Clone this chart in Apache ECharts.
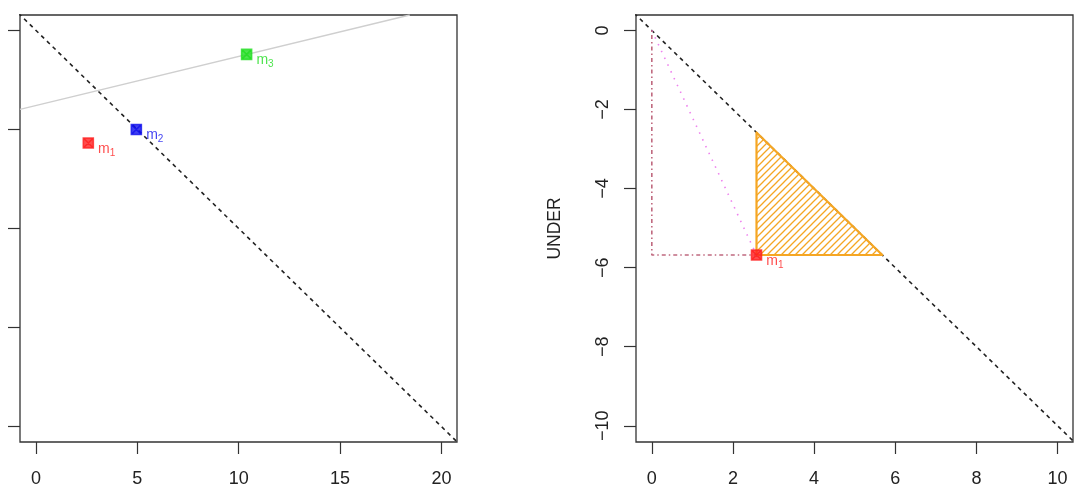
<!DOCTYPE html>
<html>
<head>
    <meta charset="UTF-8">
    <title>UNDER</title>
    <script src="https://cdn.jsdelivr.net/npm/echarts@6/dist/echarts.min.js"></script>
    <style>
        html, body { margin: 0; padding: 0; background: #fff; }
    </style>
</head>
<body>
    <div id="main" style="width: 1075px;height:494px;"></div>
    <script type="text/javascript">
        // data
        var leftXTicks = [0, 5, 10, 15, 20];
        var leftYTicks = [0, -5, -10, -15, -20];
        var rightXTicks = [0, 2, 4, 6, 8, 10];
        var rightYTicks = [0, -2, -4, -6, -8, -10];

        var diagLeft = [[-2, 2], [22, -22]];
        var diagRight = [[-1, 1], [11, -11]];
        var grayLine = [[-0.79, -3.99], [18.44, 0.78]];

        var pointNames = ['1', '2', '3'];
        var pointX = [2.58, 4.95, 10.39];
        var pointY = [-5.68, -5.0, -1.21];
        var pointColors = ['#ff2020', '#1010ee', '#22dd22'];

        var m1 = [2.58, -5.68];
        var triangle = [[2.58, -2.58], [2.58, -5.68], [5.68, -5.68]];
        var dottedPath = [[0, 0], [2.58, -5.68]];
        var dashDotPath = [[0, 0], [0, -5.68], [2.58, -5.68]];

        var myChart = echarts.init(document.getElementById('main'));

        // hatch pattern for the triangle
        var hatch = document.createElement('canvas');
        hatch.width = 7;
        hatch.height = 7;
        var hc = hatch.getContext('2d');
        hc.strokeStyle = '#f5a623';
        hc.lineWidth = 1.3;
        hc.beginPath();
        hc.moveTo(-1, 8); hc.lineTo(8, -1);
        hc.moveTo(-1, 1); hc.lineTo(1, -1);
        hc.moveTo(6, 8); hc.lineTo(8, 6);
        hc.stroke();

        var markerPath = 'path://M0,0H10V10H0ZM0,0L10,10M10,0L0,10';
        var fontFam = 'Liberation Sans, Arial, sans-serif';

        function subLabel(color) {
            return {
                show: true,
                position: 'right',
                distance: 4,
                offset: [0, 6],
                formatter: function (p) { return '{m|m}{s|' + p.data.name + '}'; },
                rich: {
                    m: { fontSize: 14, color: color, fontFamily: fontFam },
                    s: { fontSize: 10, color: color, fontFamily: fontFam, padding: [8, 0, 0, 0] }
                }
            };
        }

        function markerStyle(color) {
            return { color: color, opacity: 0.8, borderColor: color, borderWidth: 1.6 };
        }

        var scatterSeries = [];
        for (var i = 0; i < pointX.length; i++) {
            scatterSeries.push({
                type: 'scatter',
                xAxisIndex: 0,
                yAxisIndex: 0,
                symbol: markerPath,
                symbolSize: 10,
                itemStyle: markerStyle(pointColors[i]),
                label: subLabel(pointColors[i]),
                data: [{ name: pointNames[i], value: [pointX[i], pointY[i]] }],
                z: 5
            });
        }

        function axisCommon() {
            return {
                axisLine: { show: false, onZero: false },
                splitLine: { show: false },
                axisTick: { show: true, inside: false, length: 12, lineStyle: { color: '#333', width: 1.2 } },
                axisLabel: { color: '#222', fontSize: 18, fontFamily: fontFam }
            };
        }

        var xa0 = axisCommon();
        xa0.type = 'value'; xa0.gridIndex = 0; xa0.min = -0.79; xa0.max = 20.77;
        xa0.axisTick.customValues = leftXTicks;
        xa0.axisLabel.customValues = leftXTicks;
        xa0.axisLabel.margin = 28;

        var xa1 = axisCommon();
        xa1.type = 'value'; xa1.gridIndex = 1; xa1.min = -0.39; xa1.max = 10.38;
        xa1.axisTick.customValues = rightXTicks;
        xa1.axisLabel.customValues = rightXTicks;
        xa1.axisLabel.margin = 28;

        var ya0 = axisCommon();
        ya0.type = 'value'; ya0.gridIndex = 0; ya0.min = -20.78; ya0.max = 0.78;
        ya0.axisTick.customValues = leftYTicks;
        ya0.axisLabel.show = false;

        var ya1 = axisCommon();
        ya1.type = 'value'; ya1.gridIndex = 1; ya1.min = -10.41; ya1.max = 0.39;
        ya1.axisTick.customValues = rightYTicks;
        ya1.axisLabel.customValues = rightYTicks;
        ya1.axisLabel.rotate = 90;
        ya1.axisLabel.margin = 24;
        ya1.axisLabel.formatter = function (v) { return String(v).replace('-', '\u2212'); };
        ya1.name = 'UNDER';
        ya1.nameLocation = 'middle';
        ya1.nameRotate = 90;
        ya1.nameGap = 72;
        ya1.nameTextStyle = { color: '#222', fontSize: 17.5, fontFamily: fontFam };

        var option = {
            animation: false,
            backgroundColor: '#fff',
            grid: [
                { left: 20, top: 15, width: 437, height: 427, show: true, borderColor: '#333', borderWidth: 1.3, backgroundColor: 'transparent' },
                { left: 636, top: 15, width: 437, height: 427, show: true, borderColor: '#333', borderWidth: 1.3, backgroundColor: 'transparent' }
            ],
            xAxis: [xa0, xa1],
            yAxis: [ya0, ya1],
            series: [
                {
                    type: 'line', xAxisIndex: 0, yAxisIndex: 0, data: diagLeft,
                    symbol: 'none', clip: true, z: 1,
                    lineStyle: { color: '#222', width: 1.6, type: [4, 4] }
                },
                {
                    type: 'line', xAxisIndex: 0, yAxisIndex: 0, data: grayLine,
                    symbol: 'none', clip: true, z: 1,
                    lineStyle: { color: '#cfcfcf', width: 1.3 }
                },
                {
                    type: 'line', xAxisIndex: 1, yAxisIndex: 1, data: diagRight,
                    symbol: 'none', clip: true, z: 1,
                    lineStyle: { color: '#222', width: 1.6, type: [4, 4] }
                },
                {
                    type: 'custom', xAxisIndex: 1, yAxisIndex: 1,
                    data: [0],
                    renderItem: function (params, api) {
                        var pts = triangle.map(function (p) { return api.coord(p); });
                        return {
                            type: 'polygon',
                            shape: { points: pts },
                            style: {
                                fill: { image: hatch, repeat: 'repeat' },
                                stroke: '#f5a623',
                                lineWidth: 2.2,
                                lineJoin: 'round'
                            }
                        };
                    },
                    z: 3
                },
                {
                    type: 'line', xAxisIndex: 1, yAxisIndex: 1, data: dottedPath,
                    symbol: 'none', z: 2,
                    lineStyle: { color: '#ee82ee', width: 1.6, type: [1.5, 6] }
                },
                {
                    type: 'line', xAxisIndex: 1, yAxisIndex: 1, data: dashDotPath,
                    symbol: 'none', z: 2,
                    lineStyle: { color: '#c06a80', width: 1.6, type: [1.5, 3, 4, 3] }
                },
                {
                    type: 'scatter', xAxisIndex: 1, yAxisIndex: 1,
                    symbol: markerPath, symbolSize: 10,
                    itemStyle: markerStyle(pointColors[0]),
                    label: subLabel(pointColors[0]),
                    data: [{ name: pointNames[0], value: m1 }],
                    z: 5
                }
            ].concat(scatterSeries)
        };

        myChart.setOption(option);
    </script>
</body>
</html>
